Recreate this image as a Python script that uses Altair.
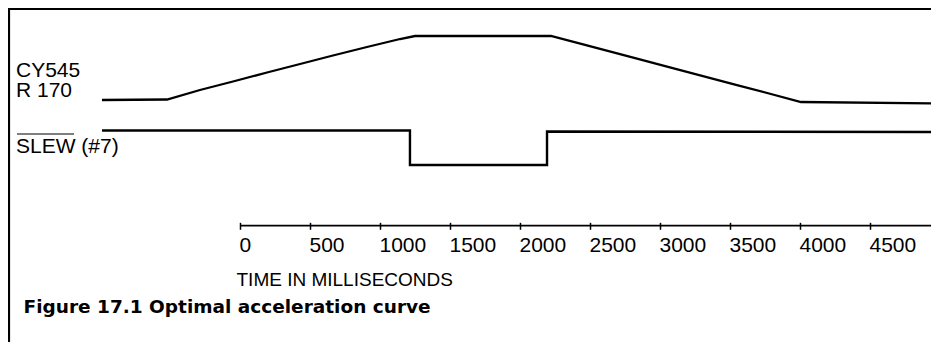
import altair as alt
import pandas as pd

# ---- data (time in ms, signal level in arbitrary units) ----
cy_time = [-986, -521, -286, -50, 193, 429, 664, 907, 1143, 1250, 2221,
           2471, 2829, 3064, 3300, 3543, 3779, 4007, 4971]
cy_level = [242, 242.5, 252, 260.5, 269.5, 278, 286.5, 295, 303, 306, 306,
            296.8, 283.6, 274.9, 266.2, 257.2, 248.5, 240, 238.5]

slew_time = [-986, 1214, 1214, 2193, 2193, 4971]
slew_level = [211.5, 211.5, 177, 177, 210.5, 210]

tick_values = [0, 500, 1000, 1500, 2000, 2500, 3000, 3500, 4000, 4500]
axis_extent = [0, 4990]
axis_level = 116.3

trace_labels = ["CY545", "R 170", "SLEW (#7)"]
axis_title = "TIME IN MILLISECONDS"
caption = "Figure 17.1 Optimal acceleration curve"

# ---- tables ----
df_cy = pd.DataFrame({"t": cy_time, "v": cy_level, "i": range(len(cy_time))})
df_slew = pd.DataFrame({"t": slew_time, "v": slew_level, "i": range(len(slew_time))})
df_axis = pd.DataFrame({"t": [axis_extent[0]], "t2": [axis_extent[1]], "v": [axis_level]})

W, H = 923, 334
x_scale = alt.Scale(domain=[-1657.142857, 4935.714286], nice=False, zero=False)
y_scale = alt.Scale(domain=[0, H], nice=False, zero=False)

FONT = "Liberation Sans"

x_axis = alt.Axis(
    values=tick_values, format="d", domain=False, grid=False,
    ticks=True, tickSize=7, tickWidth=1.5, tickColor="black",
    labelAlign="left", labelBaseline="alphabetic", labelPadding=21.7,
    labelFont=FONT, labelFontSize=21, labelColor="black",
    labelFlush=False, labelOverlap=False, labelOffset=-1,
    offset=-119.7, title=None,
)

axis_line = alt.Chart(df_axis).mark_rule(color="black", strokeWidth=1.7).encode(
    x=alt.X("t:Q", scale=x_scale, axis=x_axis),
    x2="t2:Q",
    y=alt.Y("v:Q", scale=y_scale, axis=None),
)

cy_line = alt.Chart(df_cy).mark_line(color="black", strokeWidth=2.3).encode(
    x=alt.X("t:Q", scale=x_scale, axis=x_axis),
    y=alt.Y("v:Q", scale=y_scale, axis=None),
    order="i:Q",
)

slew_line = alt.Chart(df_slew).mark_line(color="black", strokeWidth=2.4).encode(
    x=alt.X("t:Q", scale=x_scale, axis=x_axis),
    y=alt.Y("v:Q", scale=y_scale, axis=None),
    order="i:Q",
)


def label(text, x, y, font=FONT, size=21, weight="normal"):
    return alt.Chart(pd.DataFrame({"label": [text]})).mark_text(
        align="left", baseline="alphabetic", font=font, fontSize=size,
        fontWeight=weight, color="black",
    ).encode(text="label:N", x=alt.value(x), y=alt.value(y))


lab_cy = label(trace_labels[0], 8, 69)
lab_r = label(trace_labels[1], 8, 89)
lab_slew = label(trace_labels[2], 8, 145)
lab_title = label(axis_title, 228.5, 277.5, size=19)
lab_caption = label(caption, 15.5, 305, font="DejaVu Sans", size=18.5, weight="bold")

overline = alt.Chart(pd.DataFrame({"a": [0]})).mark_rule(color="black", strokeWidth=1.2).encode(
    x=alt.value(9), x2=alt.value(66), y=alt.value(126)
)
frame_top = alt.Chart(pd.DataFrame({"a": [0]})).mark_rule(color="black", strokeWidth=2).encode(
    x=alt.value(0), x2=alt.value(W), y=alt.value(1)
)
frame_left = alt.Chart(pd.DataFrame({"a": [0]})).mark_rule(color="black", strokeWidth=2.2).encode(
    x=alt.value(1), y=alt.value(0), y2=alt.value(H)
)

chart = alt.layer(
    axis_line, cy_line, slew_line, lab_cy, lab_r, lab_slew, lab_title, lab_caption,
    overline, frame_top, frame_left,
).properties(
    width=W, height=H, autosize="none", padding=0, background="white"
).configure_view(stroke=None)

chart.save("out.html", embed_options={"renderer": "svg", "actions": False})
